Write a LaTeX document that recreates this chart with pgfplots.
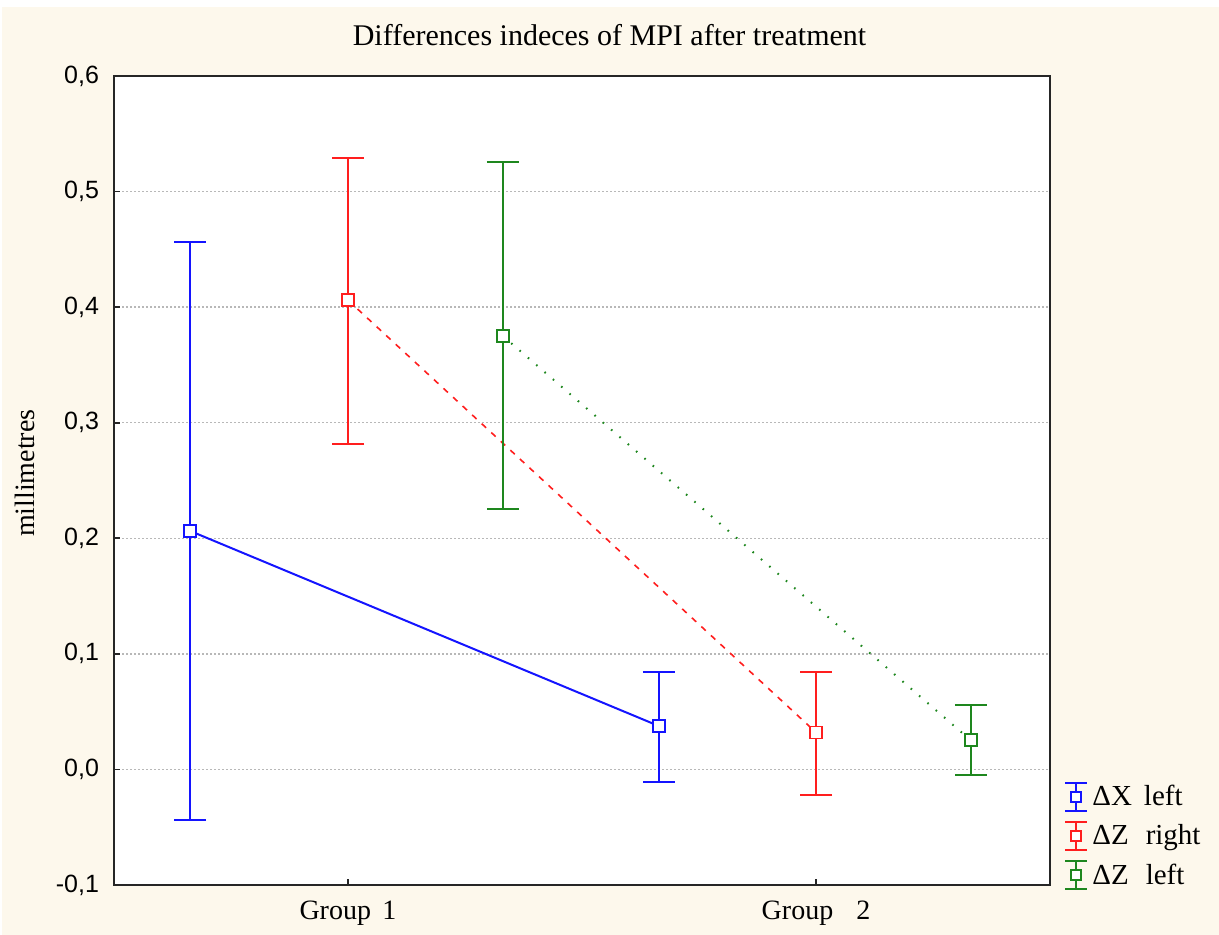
\documentclass[border=0pt]{standalone}
\usepackage{fontspec}
\setmainfont{Liberation Serif}
\newfontfamily\arialfont{Liberation Sans}
\usepackage{pgfplots}
\pgfplotsset{compat=1.18}
\usetikzlibrary{backgrounds}

\definecolor{bgcream}{RGB}{253,248,236}
\definecolor{sblue}{RGB}{20,20,255}
\definecolor{sred}{RGB}{255,30,30}
\definecolor{sgreen}{RGB}{30,135,30}

\begin{document}
\begin{tikzpicture}
\begin{axis}[
  name=ax, at={(0,0)}, anchor=south west,
  scale only axis, width=468pt, height=404.5pt,
  axis background/.style={fill=white},
  xmin=-0.5, xmax=1.5, ymin=-0.1, ymax=0.6,
  xtick={0,1},
  xticklabels={Group\hspace{5.7pt}1, Group\hspace{11.5pt}2},
  ytick={-0.1,0,0.1,0.2,0.3,0.4,0.5,0.6},
  tick pos=left, major tick length=3pt,
  tick style={black!85, line width=0.8pt},
  axis line style={black!85, line width=1pt},
  ymajorgrids,
  major grid style={black!28, line width=0.7pt, dash pattern=on 1pt off 1pt},
  yticklabel style={font=\fontsize{12.5}{14}\arialfont, xshift=-4pt,
    /pgf/number format/.cd, fixed, fixed zerofill, precision=1, use comma, assume math mode=true},
  xticklabel style={font=\fontsize{14}{16}\selectfont, anchor=center, yshift=-14pt},
  title={Differences indeces of MPI after treatment},
  title style={font=\fontsize{15}{18}\selectfont, at={(axis description cs:0.5294,1.0359)}, anchor=center},
  ylabel={millimetres},
  ylabel style={font=\fontsize{14}{16}\selectfont, at={(axis description cs:-0.0950,0.509)}, anchor=center},
  error bars/y dir=both, error bars/y explicit,
  error bars/error bar style={solid, line width=1pt},
  error bars/error mark options={rotate=90, line width=1pt, mark size=8pt},
  legend cell align=left,
  legend style={at={(axis cs:1.5,-0.0577)}, anchor=west, xshift=4pt,
    draw=none, fill=none, font=\fontsize{14.5}{16}\selectfont, row sep=4pt},
  legend image code/.code={
    \draw[#1, solid, line width=1pt] (0pt,-7pt) -- (0pt,7pt);
    \draw[#1, solid, line width=1pt] (-5.5pt,7pt) -- (5.5pt,7pt) (-5.5pt,-7pt) -- (5.5pt,-7pt);
    \draw[#1, solid, line width=1pt, fill=white] (-2.5pt,-2.5pt) rectangle (2.5pt,2.5pt);
  },
]
\addplot[sblue, line width=1pt, mark=square*, mark size=3pt, mark options={solid, fill=white}]
  coordinates {(-0.3376,0.2064) += (0,0.2496) -= (0,0.2504)
               (0.6645,0.0375) += (0,0.0470) -= (0,0.0482)};
\addlegendentry{ΔX\hspace{6pt}left}
\addplot[sred, line width=0.8pt, dash pattern=on 3pt off 3.5pt, mark=square*, mark size=3pt, mark options={solid, fill=white}]
  coordinates {(0,0.406) += (0,0.123) -= (0,0.124)
               (1,0.032) += (0,0.0525) -= (0,0.0545)};
\addlegendentry{ΔZ\hspace{8.5pt}right}
\addplot[sgreen, line width=1pt, dash pattern=on 0.8pt off 4.7pt, mark=square*, mark size=3pt, mark options={solid, fill=white}]
  coordinates {(0.331,0.375) += (0,0.1505) -= (0,0.150)
               (1.331,0.0251) += (0,0.0303) -= (0,0.0303)};
\addlegendentry{ΔZ\hspace{8.5pt}left}
\end{axis}
\begin{pgfonlayer}{background}
\fill[white] ([shift={(-57pt,-25pt)}]ax.south west) rectangle ([shift={(84.5pt,38pt)}]ax.north east);
\fill[bgcream] ([shift={(-56pt,-25pt)}]ax.south west) rectangle ([shift={(84.5pt,34.5pt)}]ax.north east);
\end{pgfonlayer}
\end{tikzpicture}
\end{document}
